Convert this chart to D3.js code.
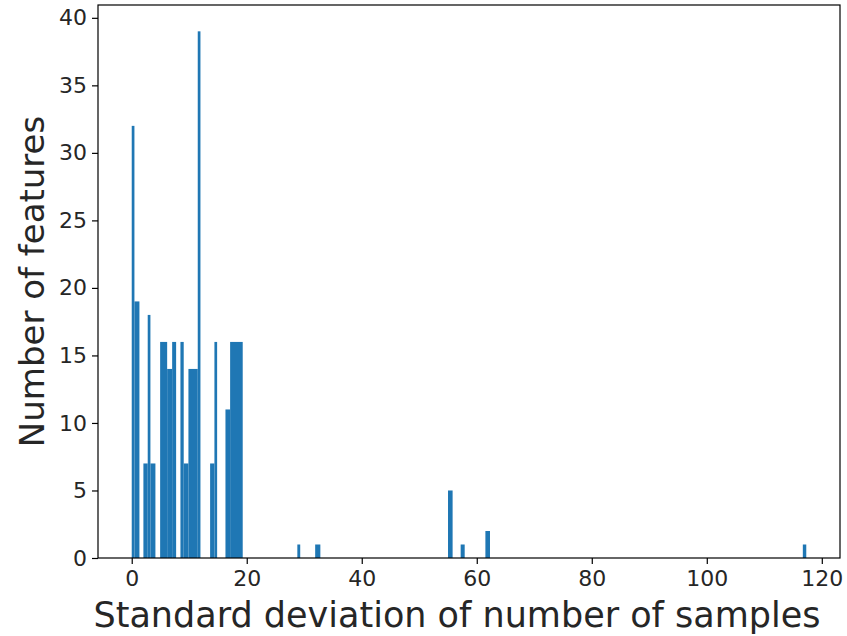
<!DOCTYPE html>
<html>
<head>
    <meta charset="utf-8">
    <script src="https://d3js.org/d3.v7.min.js"></script>
    <style>
        body { margin: 0; background: #fff; }
        text { font-family: "DejaVu Sans", sans-serif; fill: #262626; }
    </style>
</head>
<body>
    <div id="chart"></div>
    <script>
        // histogram bins (left edge, right edge, count)
        const binStart = [0, 0.47, 2.03, 2.78, 3.25, 4.94, 6.16, 7.03, 8.47, 9.04, 9.86, 11.48,
                          13.63, 14.38, 16.30, 17.11, 28.8, 31.9, 55.0, 57.2, 61.5, 116.7];
        const binEnd   = [0.47, 1.34, 2.78, 3.25, 4.12, 6.16, 7.03, 7.72, 9.04, 9.86, 11.48, 11.95,
                          14.38, 14.85, 17.11, 19.30, 29.3, 32.8, 55.8, 57.9, 62.3, 117.3];
        const counts   = [32, 19, 7, 18, 7, 16, 14, 16, 16, 7, 14, 39,
                          7, 16, 11, 16, 1, 1, 5, 1, 2, 1];

        const xTicks = [0, 20, 40, 60, 80, 100, 120];
        const yTicks = [0, 5, 10, 15, 20, 25, 30, 35, 40];

        const bins = binStart.map((s, i) => ({x0: s, x1: binEnd[i], n: counts[i]}));

        const width = 847, height = 636;
        const margin = {top: 5, right: 7, bottom: 78, left: 98};

        const svg = d3.select("#chart").append("svg")
            .attr("width", width)
            .attr("height", height);

        // matplotlib style 5% padding
        const xMin = d3.min(binStart), xMax = d3.max(binEnd);
        const pad = (xMax - xMin) * 0.05;
        const x = d3.scaleLinear()
            .domain([xMin - pad, xMax + pad])
            .range([margin.left, width - margin.right]);

        const y = d3.scaleLinear()
            .domain([0, d3.max(counts) * 1.05])
            .range([height - margin.bottom, margin.top]);

        // bars
        svg.append("g")
            .selectAll("rect")
            .data(bins)
            .join("rect")
            .attr("x", d => x(d.x0))
            .attr("width", d => x(d.x1) - x(d.x0))
            .attr("y", d => y(d.n))
            .attr("height", d => y(0) - y(d.n))
            .attr("fill", "#1f77b4");

        // axes
        const xAxis = svg.append("g")
            .attr("transform", `translate(0,${height - margin.bottom})`)
            .call(d3.axisBottom(x).tickValues(xTicks).tickSize(6).tickPadding(6));
        const yAxis = svg.append("g")
            .attr("transform", `translate(${margin.left},0)`)
            .call(d3.axisLeft(y).tickValues(yTicks).tickSize(6).tickPadding(5));

        [xAxis, yAxis].forEach(a => {
            a.select(".domain").remove();
            a.selectAll(".tick line").attr("stroke", "#000").attr("stroke-width", 1.2);
            a.selectAll(".tick text").style("font-size", "22px").attr("fill", "#262626");
        });

        // frame
        svg.append("rect")
            .attr("x", margin.left)
            .attr("y", margin.top)
            .attr("width", width - margin.right - margin.left)
            .attr("height", height - margin.bottom - margin.top)
            .attr("fill", "none")
            .attr("stroke", "#000")
            .attr("stroke-width", 1.2);

        // labels
        svg.append("text")
            .attr("x", 457)
            .attr("y", 627)
            .attr("text-anchor", "middle")
            .style("font-size", "35px")
            .text("Standard deviation of number of samples");

        svg.append("text")
            .attr("transform", `translate(44,${(margin.top + height - margin.bottom) / 2}) rotate(-90)`)
            .attr("text-anchor", "middle")
            .style("font-size", "34px")
            .text("Number of features");
    </script>
</body>
</html>
